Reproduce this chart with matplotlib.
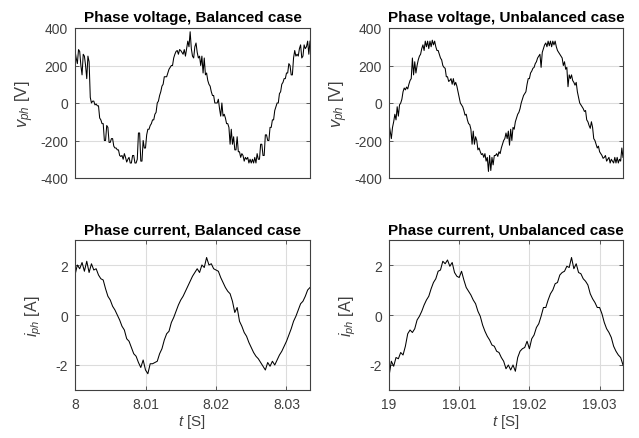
import numpy as np
import matplotlib
matplotlib.use('Agg')
import matplotlib.pyplot as plt

plt.rcParams['font.family'] = ['Liberation Sans', 'DejaVu Sans']
plt.rcParams['mathtext.fontset'] = 'custom'
plt.rcParams['mathtext.rm'] = 'Liberation Sans'
plt.rcParams['mathtext.it'] = 'Liberation Sans:italic'
plt.rcParams['axes.unicode_minus'] = False

# sample steps (s)
dt_v = 1 / 6000
dt_i = 1 / 3000

# Phase voltage, balanced case (V), starting at t = 8 s
v_bal = [280, 240, 210, 285, 275, 200, 150, 260, 250, 200,
         130, 250, 220, 30, 0, 10, 10, -10, -5, -15,
         -15, -80, -90, -110, -110, -200, -200, -120, -130, -210,
         -210, -190, -190, -230, -240, -240, -250, -250, -280, -285,
         -280, -300, -270, -290, -315, -300, -290, -320, -320, -280,
         -280, -320, -320, -300, -160, -160, -310, -310, -200, -240,
         -240, -170, -140, -140, -120, -110, -90, -90, -60, -50,
         0, 10, 40, 60, 90, 100, 140, 140, 140, 160,
         180, 190, 200, 200, 240, 260, 275, 280, 260, 285,
         280, 270, 260, 285, 250, 290, 330, 300, 380, 290,
         250, 240, 300, 320, 270, 240, 250, 200, 250, 160,
         240, 150, 160, 120, 100, 90, 60, 40, 40, 0,
         0, 0, 20, -30, -70, 0, -70, -60, -80, -110,
         -110, -130, -220, -140, -220, -180, -250, -250, -180, -260,
         -260, -290, -270, -280, -310, -290, -300, -290, -320, -300,
         -320, -300, -320, -290, -320, -270, -300, -300, -220, -220,
         -280, -280, -170, -170, -200, -200, -130, -130, -90, -90,
         -40, -20, 0, 0, 50, 60, 100, 110, 130, 130,
         160, 160, 210, 200, 150, 150, 240, 280, 250, 260,
         250, 290, 310, 240, 250, 310, 290, 300, 330, 260,
         330]

# Phase voltage, unbalanced case (V), starting at t = 19 s
v_unb = [-110, -150, -190, -130, -100, -60, -90, -20, -70, -10,
         0, 20, 60, 80, 70, 85, 75, 100, 120, 130,
         240, 150, 220, 160, 200, 230, 250, 260, 290, 310,
         280, 330, 300, 330, 290, 330, 300, 335, 310, 330,
         300, 280, 280, 260, 240, 230, 200, 190, 185, 140,
         140, 115, 120, 130, 100, 130, 95, 110, 90, 60,
         30, 0, -10, -20, -40, -65, -60, -90, -110, -115,
         -140, -220, -150, -220, -180, -200, -250, -240, -260, -275,
         -270, -290, -270, -310, -290, -365, -280, -360, -290, -330,
         -280, -280, -270, -285, -260, -270, -240, -220, -200, -190,
         -160, -190, -150, -225, -140, -200, -130, -140, -100, -80,
         -60, -50, -30, 0, 20, 40, 50, 60, 100, 130,
         130, 160, 170, 185, 190, 210, 220, 240, 250, 260,
         190, 270, 290, 310, 320, 300, 330, 305, 330, 300,
         330, 310, 330, 300, 280, 270, 260, 250, 240, 200,
         220, 180, 190, 87, 150, 130, 150, 120, 110, 95,
         110, 60, 30, 0, -10, -20, -30, -45, -40, -90,
         -100, -120, -135, -100, -130, -190, -200, -220, -240, -230,
         -260, -270, -280, -295, -290, -280, -310, -300, -290, -320,
         -300, -310, -320, -290, -320, -290, -320, -300, -310, -240,
         -290]

# Phase current, balanced case (A)
i_bal = [1.6, 2.0, 1.85, 2.1, 1.75, 2.15, 1.7, 2.05, 1.8, 1.85,
         1.6, 1.45, 1.4, 1.05, 0.75, 0.6, 0.35, 0.2, 0.0, -0.2,
         -0.45, -0.6, -0.95, -1.05, -1.3, -1.55, -1.65, -1.9, -2.1, -1.8,
         -2.2, -2.35, -1.95, -1.95, -1.9, -1.85, -1.55, -1.35, -1.0, -0.75,
         -0.65, -0.3, -0.1, 0.15, 0.4, 0.6, 0.75, 0.95, 1.15, 1.35,
         1.55, 1.7, 1.85, 1.7, 2.0, 1.9, 2.3, 2.0, 2.05, 1.85,
         1.8, 1.75, 1.5, 1.3, 1.1, 0.95, 0.85, 0.55, 0.1, 0.3,
         -0.25, -0.45, -0.7, -0.85, -1.1, -1.3, -1.5, -1.65, -1.75, -1.9,
         -2.05, -2.2, -1.9, -2.05, -1.85, -2.0, -1.8, -1.6, -1.45, -1.25,
         -1.05, -0.8, -0.55, -0.25, -0.05, 0.2, 0.45, 0.55, 0.75, 1.0,
         1.1]

# Phase current, unbalanced case (A)
i_unb = [-2.45, -1.85, -2.05, -1.7, -1.75, -1.5, -1.6, -1.25, -0.75, -0.6,
         -0.7, -0.55, -0.2, -0.05, 0.15, 0.4, 0.6, 0.75, 1.05, 1.3,
         1.45, 1.75, 1.8, 2.15, 2.05, 2.2, 1.95, 2.1, 1.7, 1.55,
         1.5, 1.75, 1.4, 1.1, 0.95, 0.8, 0.6, 0.45, 0.15, -0.05,
         -0.4, -0.65, -0.85, -1.0, -1.2, -1.25, -1.45, -1.5, -1.7, -1.85,
         -2.15, -2.0, -2.2, -2.0, -2.25, -1.7, -1.45, -1.35, -1.3, -1.05,
         -1.35, -0.95, -0.8, -0.5, -0.35, -0.05, 0.3, 0.3, 0.6, 0.85,
         1.0, 1.25, 1.3, 1.6, 1.7, 1.75, 1.95, 1.9, 2.3, 1.85,
         2.05, 1.7, 1.65, 1.45, 1.35, 1.2, 0.85, 0.65, 0.5, 0.3,
         0.3, 0.05, -0.3, -0.55, -0.7, -0.9, -1.25, -1.45, -1.6, -1.7,
         -2.0]

t_start = [8, 19]
titles = ['Phase voltage, Balanced case', 'Phase voltage, Unbalanced case',
          'Phase current, Balanced case', 'Phase current, Unbalanced case']
xtick_lbl = [['8', '8.01', '8.02', '8.03'], ['19', '19.01', '19.02', '19.03']]

grey = '#404040'

fig = plt.figure(figsize=(6.39, 4.39), dpi=100)
left = [75 / 639, 389 / 639]
width = [235 / 639, 234 / 639]
bottom = [1 - 179 / 439, 1 - 391 / 439]
height = 150 / 439

series = [[v_bal, v_unb], [i_bal, i_unb]]
steps = [dt_v, dt_i]

for r in range(2):
    for c in range(2):
        ax = fig.add_axes([left[c], bottom[r], width[c], height])
        y = np.array(series[r][c])
        t = t_start[c] + np.arange(len(y)) * steps[r]
        ax.plot(t, y, color='black', lw=0.75)
        ax.set_xlim(t_start[c], t_start[c] + 1 / 30)
        ax.set_title(titles[2 * r + c], fontsize=11, fontweight='bold', pad=5)

        if r == 0:
            ax.set_ylim(-400, 400)
            ax.set_yticks([-400, -200, 0, 200, 400])
            ax.set_xticks([])
            ax.set_ylabel(r'$v_{ph}$ [V]', fontsize=12, color=grey, labelpad=3)
        else:
            ax.set_ylim(-3, 3)
            ax.set_yticks([-2, 0, 2])
            xt = [t_start[c] + 0.01 * n for n in range(4)]
            ax.set_xticks(xt)
            ax.set_xticklabels(xtick_lbl[c])
            ax.set_ylabel(r'$i_{ph}$ [A]', fontsize=11.5, color=grey, labelpad=8)
            ax.set_xlabel(r'$t$ [S]', fontsize=11, color=grey, labelpad=1)

        ax.grid(True, color='#dcdcdc', lw=0.8)
        ax.set_axisbelow(True)
        ax.tick_params(direction='in', length=3, width=0.6, labelsize=10,
                       colors=grey, top=True, right=True, pad=5)
        for s in ax.spines.values():
            s.set_color(grey)
            s.set_linewidth(0.8)

fig.savefig('out.png', dpi=100)
